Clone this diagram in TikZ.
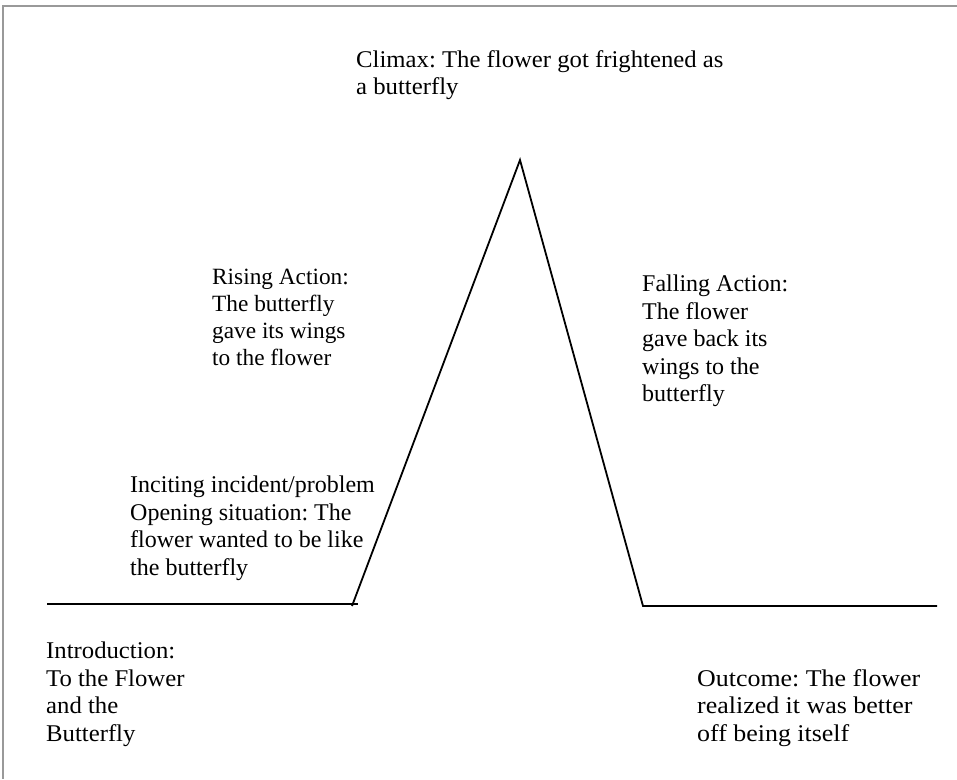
\documentclass[tikz,border=0pt]{standalone}
\usepackage{fontspec}
\setmainfont{Liberation Serif}
\newfontfamily\widea[FakeStretch=1.03]{Liberation Serif}
\newfontfamily\wideb[FakeStretch=1.08]{Liberation Serif}
\frenchspacing
\begin{document}
\begin{tikzpicture}[x=1pt,y=-1pt,
  lbl/.style={anchor=north west,inner sep=0pt,align=left,font=\fontsize{24}{27.5}\selectfont},
  plotline/.style={line width=1.8pt,black},
  frame/.style={line width=1.2pt,gray!80}]
\useasboundingbox (0,0) rectangle (957,779);
\draw[frame] (957,6) -- (3,6) -- (3,779);
\coordinate (l0) at (47,604);
\coordinate (l1) at (358,604);
\coordinate (r0) at (352,606);
\coordinate (pk) at (520,160);
\coordinate (f1) at (643,606);
\coordinate (f2) at (937,606);
\draw[plotline] (l0) -- (l1);
\draw[plotline,line join=miter] (r0) -- (pk) -- (f1) -- (f2);
\node[lbl,font=\widea\fontsize{24}{27.5}\selectfont] (climax) at (356,50) {Climax: The flower got frightened as\\a butterfly};
\node[lbl,font=\fontsize{23.3}{27}\selectfont] (rising) at (212,268.5) {Rising Action:\\The butterfly\\gave its wings\\to the flower};
\node[lbl] (falling) at (642,275) {Falling Action:\\The flower\\gave back its\\wings to the\\butterfly};
\node[lbl] (inciting) at (130,476) {Inciting incident/problem\\Opening situation: The\\flower wanted to be like\\the butterfly};
\node[lbl,font=\widea\fontsize{24}{27.5}\selectfont] (intro) at (46,642) {Introduction:\\To the Flower\\and the\\Butterfly};
\node[lbl,font=\wideb\fontsize{24}{27.5}\selectfont] (outcome) at (697,669) {Outcome: The flower\\realized it was better\\off being itself};
\end{tikzpicture}
\end{document}
